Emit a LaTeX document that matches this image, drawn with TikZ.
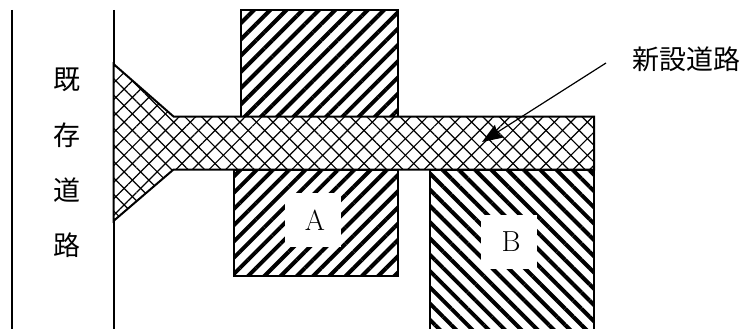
\documentclass[tikz,border=0pt]{standalone}
\usepackage{fontspec}
\newfontfamily\cjk{Noto Sans CJK JP}
\usetikzlibrary{patterns.meta,arrows.meta}
\tikzset{
  edge/.style={line width=2pt,black},
  hatchup/.style={edge,fill=white,postaction={pattern={Lines[angle=45,distance=11.5pt,line width=4pt]}}},
  hatchdown/.style={edge,fill=white,postaction={pattern={Lines[angle=-45,distance=11.5pt,line width=4pt]}}},
  crosshatch/.style={edge,fill=white,postaction={pattern={Lines[angle=45,distance=11.7pt,line width=1.2pt]}},postaction={pattern={Lines[angle=-45,distance=11.7pt,line width=1.2pt]}}},
  lotname/.style={fill=white,inner sep=0pt,minimum width=56pt,minimum height=54pt,font=\fontsize{29}{29}\selectfont},
  roadname/.style={inner sep=0pt,font=\cjk\fontsize{27}{27}\selectfont}
}
\begin{document}
\begin{tikzpicture}[x=1pt,y=-1pt]
\useasboundingbox (0,0) rectangle (741,329);
% existing road
\draw[edge] (12,10) -- (12,329);
\draw[edge] (113.5,10) -- (113.5,329);
\node[roadname] (kizon1) at (67,80) {既};
\node[roadname] (kizon2) at (67,135) {存};
\node[roadname] (kizon3) at (67,190) {道};
\node[roadname] (kizon4) at (67,245) {路};
% lots
\draw[hatchup] (240.5,10) rectangle (397.5,116.5);
\draw[hatchup] (234,169.5) rectangle (397.5,276);
\draw[hatchdown] (430,169.5) rectangle (594,332);
\node[lotname] (lotA) at (312.5,220) {\hspace*{5pt}A};
\node[lotname] (lotB) at (508.5,241.5) {\hspace*{5pt}B};
% new road
\draw[crosshatch] (113.5,64) -- (173.5,116.5) -- (594,116.5) -- (594,169.5) -- (173.5,169.5) -- (113.5,221) -- cycle;
\node[roadname,anchor=west] (shinsetsu) at (632,59) {新設道路};
\coordinate (arrowstart) at (606,63);
\coordinate (arrowend) at (482,142);
\draw[-{Stealth[length=20pt,width=15pt,inset=2pt]},line width=1.2pt] (arrowstart) -- (arrowend);
\end{tikzpicture}
\end{document}
